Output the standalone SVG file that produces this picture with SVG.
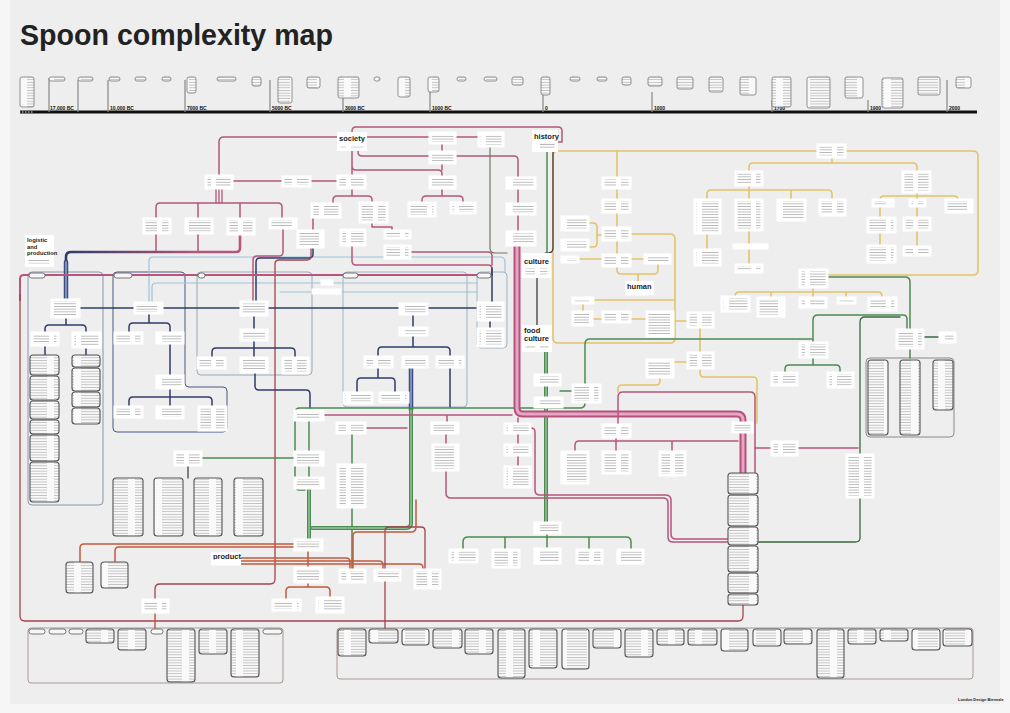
<svg xmlns="http://www.w3.org/2000/svg" width="1010" height="713" viewBox="0 0 1010 713">
<defs>
<pattern id="tx" width="27" height="2.7" patternUnits="userSpaceOnUse"><rect width="27" height="2.7" fill="#fff"/><rect y="1" width="22" height="0.75" fill="#a8a8a8"/></pattern>
<pattern id="tl" width="27" height="2.7" patternUnits="userSpaceOnUse"><rect width="27" height="2.7" fill="#f9f9f9"/><rect y="1" width="20" height="0.7" fill="#b0b0b0"/></pattern>
<linearGradient id="gRN" gradientUnits="userSpaceOnUse" x1="66" y1="0" x2="200" y2="0"><stop offset="0" stop-color="#2e3c6a"/><stop offset="1" stop-color="#b7567d"/></linearGradient>
</defs>
<style>
.n{fill:url(#tx);stroke:#fff;stroke-width:3}
.l{fill:url(#tl);stroke:#555;stroke-width:1.1}
.tb{fill:url(#tl);stroke:#777;stroke-width:.8}
.pill{fill:#f7f7f7;stroke:#555;stroke-width:.8}
.fr{fill:none;stroke-width:1}
#links path{fill:none;stroke-linecap:round;stroke-linejoin:round}
.ro{stroke:#b7567d;stroke-width:1.5}
.ma{stroke:#a3434f;stroke-width:1.3}
.nv{stroke:#2e3c6a;stroke-width:1.5}
.lb{stroke:#9cc3dc;stroke-width:1.2}
.ye{stroke:#e3c36a;stroke-width:1.6}
.gr{stroke:#4b8b52;stroke-width:1.5}
.dg{stroke:#3a6b40;stroke-width:1.3}
.or{stroke:#c25a3c;stroke-width:1.5}
.dk{stroke:#333;stroke-width:1.2}
.pb1{stroke:#b5527c;stroke-width:7}
.pb2{stroke:#e6a6c4;stroke-width:3}
.nb1{stroke:#3b4d80;stroke-width:4.5}
.nb2{stroke:#8ea2cf;stroke-width:1.6}
.gb1{stroke:#4b8b52;stroke-width:4}
.gb2{stroke:#9cc79f;stroke-width:1.4}
text{font-family:"Liberation Sans",Arial,Helvetica,sans-serif;font-weight:bold;fill:#222}
.h{font-size:7.5px}
.tl{font-size:5px;fill:#111}
</style>
<rect width="1010" height="713" fill="#f6f6f6"/>
<rect x="10" y="0" width="990" height="704" fill="#eeeeee"/>

<g id="title"><text x="20" y="45" font-size="29" fill="#3a3a3a" textLength="313" lengthAdjust="spacingAndGlyphs">Spoon complexity map</text></g>

<g id="timeline">
<path d="M20,112 H977" stroke="#111" stroke-width="3" fill="none"/>
<path d="M19,112 H33 M977,112 H991" stroke="#eee" stroke-width="1" stroke-dasharray="1.5 1.5" fill="none"/>
<path d="M49,78 V112 M78,80 V112 M108,80 V112 M185,80 V112 M270,80 V112 M343,80 V112 M430,80 V112 M543,80 V112 M652,92 V112 M772,100 V112 M868,100 V112 M947,80 V112" stroke="#888" stroke-width="1.2" fill="none"/>
<text class="tl" x="50" y="110">17,000 BC</text>
<text class="tl" x="110" y="110">10,000 BC</text>
<text class="tl" x="187" y="110">7000 BC</text>
<text class="tl" x="272" y="110">5000 BC</text>
<text class="tl" x="345" y="110">3000 BC</text>
<text class="tl" x="432" y="110">1000 BC</text>
<text class="tl" x="545" y="110">0</text>
<text class="tl" x="654" y="110">1000</text>
<text class="tl" x="774" y="110">1700</text>
<text class="tl" x="870" y="110">1900</text>
<text class="tl" x="949" y="110">2000</text>
<g id="tboxes">
<rect class="tb" x="20" y="77" width="14" height="30" rx="2"/><rect class="tb" x="49" y="77" width="16" height="4" rx="2"/><rect class="tb" x="78" y="77" width="15" height="4" rx="2"/><rect class="tb" x="109" y="77" width="11" height="4" rx="2"/><rect class="tb" x="135" y="77" width="11" height="4" rx="2"/><rect class="tb" x="162" y="77" width="9" height="4" rx="2"/><rect class="tb" x="187" y="77" width="9" height="16" rx="2"/><rect class="tb" x="217" y="77" width="19" height="4" rx="2"/><rect class="tb" x="252" y="77" width="9" height="9" rx="2"/><rect class="tb" x="278" y="77" width="14" height="26" rx="2"/><rect class="tb" x="307" y="77" width="13" height="11" rx="2"/><rect class="tb" x="338" y="77" width="21" height="21" rx="2"/><rect class="tb" x="374" y="77" width="6" height="4" rx="2"/><rect class="tb" x="398" y="77" width="12" height="20" rx="2"/><rect class="tb" x="428" y="77" width="11" height="15" rx="2"/><rect class="tb" x="457" y="77" width="9" height="4" rx="2"/><rect class="tb" x="484" y="77" width="13" height="4" rx="2"/><rect class="tb" x="512" y="77" width="11" height="8" rx="2"/><rect class="tb" x="541" y="77" width="9" height="18" rx="2"/><rect class="tb" x="570" y="77" width="10" height="4" rx="2"/><rect class="tb" x="597" y="77" width="10" height="4" rx="2"/><rect class="tb" x="622" y="77" width="9" height="8" rx="2"/><rect class="tb" x="648" y="77" width="14" height="9" rx="2"/><rect class="tb" x="677" y="77" width="16" height="12" rx="2"/><rect class="tb" x="709" y="77" width="14" height="15" rx="2"/><rect class="tb" x="740" y="77" width="16" height="18" rx="2"/><rect class="tb" x="772" y="77" width="19" height="30" rx="2"/><rect class="tb" x="807" y="77" width="23" height="31" rx="2"/><rect class="tb" x="845" y="77" width="18" height="21" rx="2"/><rect class="tb" x="882" y="78" width="21" height="30" rx="2"/><rect class="tb" x="918" y="77" width="22" height="18" rx="2"/><rect class="tb" x="956" y="77" width="15" height="11" rx="2"/>
</g>
</g>

<g id="frames">
<rect class="fr" x="28" y="272" width="75" height="233" rx="4" stroke="#8a96a8"/>
<path class="fr" d="M113,276 Q113,272 117,272 H181 Q185,272 185,276 V383 Q185,387 189,387 H223 Q227,387 227,391 V428 Q227,432 223,432 H117 Q113,432 113,428 Z" stroke="#4a5680"/>
<rect class="fr" x="197" y="272" width="115" height="103" rx="4" stroke="#9aa8b8"/>
<rect class="fr" x="343" y="272" width="124" height="135" rx="4" stroke="#9fb4c4"/>
<rect class="fr" x="477" y="272" width="30" height="76" rx="4" stroke="#9fb4c4"/>
<rect class="fr" x="866" y="358" width="88" height="79" rx="4" stroke="#8a8a8a"/>
<rect class="fr" x="28" y="628" width="255" height="55" rx="3" stroke="#a89a92"/>
<rect class="fr" x="337" y="628" width="636" height="51" rx="3" stroke="#a89a92"/>
</g>

<g id="links">
<path class="lb" d="M149,303 V261 Q149,257 153,257 H500 Q505,257 505,262 V272"/>
<path class="lb" d="M152,303 V287 Q152,283 156,283 H477"/>
<path class="lb" d="M280,292 H477"/>
<path class="ye" d="M818,151 H558 Q553,151 553,156 V338 Q553,343 558,343 H670 Q675,343 675,338 V239 Q675,234 670,234 H630"/>
<path class="ye" d="M845,151 H973 Q978,151 978,156 V270 Q978,275 973,275 H827"/>
<path class="ye" d="M617,151 V178 M617,188 V200 M617,212 V228 M617,240 V255 M588,223 H593 Q597,223 597,227 V243 Q597,247 593,247 H588 M597,235 H603 M578,259 H603 M630,259 H645 M617,266 V270 Q617,274 621,274 H654 Q658,274 658,270 V263 M638,274 V281"/>
<path class="ye" d="M832,157 V163 M749,172 V167 Q749,163 753,163 H913 Q917,163 917,167 V172"/>
<path class="ye" d="M749,185 V190 M707,200 V194 Q707,190 711,190 H828 Q832,190 832,194 V200 M749,190 V200 M791,190 V200 M707,233 V250 M749,230 V265"/>
<path class="ye" d="M917,192 V196 M880,200 Q880,196 884,196 H954 Q958,196 958,200 M917,196 V200 M880,206 V218 M880,232 V246 M917,206 V218 M917,230 V247"/>
<path class="ye" d="M813,287 V292 M735,297 Q735,292 739,292 H878 Q882,292 882,297 M771,292 V298 M813,292 V298 M846,292 V298"/>
<path class="ye" d="M593,300 H675 M583,303 V312 M593,319 H603 M630,319 H647 M673,321 H688 M700,327 V353 M673,362 H688 M700,368 V373 Q700,377 704,377 H753 Q757,377 757,381 V423 M660,377 V381 Q660,385 656,385 H622 Q618,385 618,389 V392"/>
<path class="ro" d="M219,176 V142 Q219,137 224,137 H338"/>
<path class="ro" d="M352,133 V131 Q352,127 356,127 H558 Q562,127 562,131 V142 H557"/>
<path class="ro" d="M232,181 H283 M310,181 H338 M365,137 H430 M455,137 H479"/>
<path class="ro" d="M358,150 V152 Q358,156 362,156 H430 M455,156 H514 Q518,156 518,160 V178 M518,188 V204 M518,214 V232"/>
<path class="ro" d="M352,150 V176 M352,166 Q352,170 356,170 H438 Q442,170 442,174 V177 M442,143 V152 M442,163 V170"/>
<path class="ro" d="M352,188 V196 M333,204 V200 Q333,196 337,196 H368 Q372,196 372,200 V203 M442,188 V196 M422,203 V200 Q422,196 426,196 H459 Q463,196 463,200 V203"/>
<path class="ro" d="M216,188 V203 M219,188 V203 M222,188 V203" style="stroke-width:1.3"/>
<path class="ro" d="M156,219 V207 Q156,203 160,203 H278 Q282,203 282,207 V219 M198,203 V219 M240,203 V219 M156,233 V252 M198,233 V252"/>
<path d="M240,234 V248 Q240,252 236,252 H71 Q66,252 66,257 V262" stroke="url(#gRN)" stroke-width="2.6"/>
<path class="nb1" d="M66,262 V300"/><path class="nb2" d="M66,262 V300"/>
<path class="ro" d="M283,228 V252 Q283,256 279,256 H257 Q253,256 253,260 V302 M313,217 V231"/>
<path class="nv" d="M313,247 V254 Q313,258 309,258 H260 Q256,258 256,262 V302"/>
<path class="ma" d="M311,247 V256 Q311,260 307,260 H279 Q275,260 275,264 V579 Q275,584 270,584 H160 Q155,584 155,589 V600"/>
<path class="ro" d="M352,245 V261 Q352,265 356,265 H488 Q492,265 492,269 V275 M372,222 V227 H392 V231 M410,252 H488 Q492,252 492,256 V265"/>
<path class="nv" d="M492,268 V303 M490,320 V329"/>
<path class="ro" d="M478,275 H24 Q20,275 20,279 V300" style="stroke-width:2"/>
<path class="ma" d="M20,295 V616 Q20,621 25,621 H738 Q743,621 743,616 V605"/>
<path class="gr" d="M547,152 V253"/>
<path class="dk" d="M553,152 V248 Q553,253 548,253 H545 M537,278 V325"/>
<path d="M490,146 V248 Q490,253 495,253 H507" stroke="#6b7d5f" stroke-width="1.2"/>
<path class="nv" d="M79,308 H135 M162,308 H241 M267,308 H400 M427,308 H478"/>
<path class="nv" d="M66,317 V325 M45,333 V329 Q45,325 49,325 H82 Q86,325 86,329 V333 M45,345 V355 M86,347 V355"/>
<path class="nv" d="M149,313 V323 M129,333 V327 Q129,323 133,323 H166 Q170,323 170,327 V333 M170,343 V376 M170,388 V397 M129,407 V401 Q129,397 133,397 H208 Q212,397 212,401 V407 M170,397 V407"/>
<path class="nv" d="M254,315 V330 M254,340 V348 M212,358 V352 Q212,348 216,348 H291 Q295,348 295,352 V358 M254,348 V358 M255,372 V386 Q255,390 259,390 H306 Q310,390 310,394 V408"/>
<path class="nv" d="M413,314 V328 M413,335 V347 M378,357 V351 Q378,347 382,347 H446 Q450,347 450,351 V357 M378,367 V378 M357,393 V382 Q357,378 361,378 H391 Q395,378 395,382 V393 M450,367 V407"/>
<path class="nb1" d="M411,367 V410"/><path class="nb2" d="M411,367 V410"/>
<path class="gr" d="M812,339 H590 Q585,339 585,344 V403 Q585,408 580,408 H300 Q295,408 295,413 V485 Q295,490 300,490 H305"/>
<path class="gb1" d="M546,352 V523"/><path class="gb2" d="M546,352 V523"/>
<path class="gr" d="M547,533 V537 M463,550 V542 Q463,537 468,537 H626 Q631,537 631,542 V550 M505,537 V550 M547,537 V549 M589,537 V550 M560,391 H573"/>
<path class="gr" d="M309,420 V452 M309,465 V478 M352,433 V465 M352,507 V570 M202,458 H295"/>
<path class="dk" d="M188,465 V478"/>
<path class="gb1" d="M309,488 V540"/><path class="gb2" d="M309,488 V540"/>
<path class="gb1" d="M411,410 V523 Q411,528 406,528 H312"/><path class="gb2" d="M411,410 V523 Q411,528 406,528 H312"/>
<path class="gr" d="M827,277 H905 Q910,277 910,282 V330 M813,343 V320 Q813,315 818,315 H903 Q907,315 907,319 V330 M813,357 V365 M785,373 V369 Q785,365 789,365 H836 Q840,365 840,369 V373 M910,348 V358"/>
<path class="dg" d="M860,538 V322 Q860,317 865,317 H900 M860,538 Q860,542 855,542 H758 M923,337 H940"/>
<path class="ro" d="M323,415 H512 M447,415 V423 M518,418 V424 M518,433 V445 M518,455 V467 M365,428 H407 M446,433 V445"/>
<path class="pb1" d="M517,245 V408 Q517,414 523,414 H737 Q743,414 743,420 V423"/>
<path class="pb2" d="M517,245 V408 Q517,414 523,414 H737 Q743,414 743,420 V423"/>
<path class="pb1" d="M743,432 V473"/><path class="pb2" d="M743,432 V473"/>
<path class="ro" d="M446,470 V493 Q446,498 451,498 H663 Q668,498 668,503 V537 Q668,542 673,542 H728"/>
<path class="ro" d="M530,428 H531 Q535,428 535,432 V490 Q535,495 540,495 H665 Q671,495 671,500 V534 Q671,539 676,539 H728"/>
<path class="ro" d="M618,425 V397 Q618,392 623,392 H750 Q755,392 755,397 V473"/>
<path class="ro" d="M616,437 V452 M575,452 V445 Q575,441 579,441 H738 M672,441 V452 M755,448 H858"/>
<path class="or" d="M240,558 H346 Q350,558 350,562 V570 M240,561 H379 Q383,561 383,565 V570 M240,564 H419 Q423,564 423,568 V570"/>
<path class="or" d="M295,544 H84 Q80,544 80,548 V562 M295,547 H119 Q115,547 115,551 V562"/>
<path class="or" d="M308,550 V568 M308,582 V587 M286,600 V591 Q286,587 290,587 H326 Q330,587 330,591 V598 M155,612 V628"/>
<path class="ma" d="M385,628 V531 Q385,527 389,527 H421 Q425,527 425,531 V570"/>
<path class="or" d="M416,500 V527 Q416,532 411,532 H357 Q353,532 353,536 V570"/>
</g>

<g id="pills">
<rect class="pill" x="29" y="273" width="16" height="5" rx="2.5"/><rect class="pill" x="114" y="273" width="18" height="5" rx="2.5"/><rect class="pill" x="198" y="273" width="7" height="5" rx="2.5"/><rect class="pill" x="343" y="273" width="15" height="5" rx="2.5"/><rect class="pill" x="477" y="273" width="14" height="5" rx="2.5"/>
<rect class="pill" x="29" y="629" width="16" height="5" rx="2.5"/><rect class="pill" x="49" y="629" width="17" height="5" rx="2.5"/><rect class="pill" x="69" y="629" width="14" height="5" rx="2.5"/><rect class="pill" x="151" y="629" width="12" height="5" rx="2.5"/><rect class="pill" x="263" y="629" width="19" height="5" rx="2.5"/>
</g>

<g id="lists">
<rect class="l" x="30" y="355" width="29" height="20" rx="3"/><rect class="l" x="30" y="376" width="29" height="24" rx="3"/><rect class="l" x="30" y="401" width="29" height="18" rx="3"/><rect class="l" x="30" y="420" width="29" height="14" rx="3"/><rect class="l" x="30" y="435" width="29" height="26" rx="3"/><rect class="l" x="30" y="462" width="29" height="40" rx="3"/>
<rect class="l" x="72" y="355" width="28" height="12" rx="3"/><rect class="l" x="72" y="368" width="28" height="23" rx="3"/><rect class="l" x="72" y="392" width="28" height="15" rx="3"/><rect class="l" x="72" y="408" width="28" height="16" rx="3"/>
<rect class="l" x="113" y="478" width="30" height="58" rx="3"/><rect class="l" x="154" y="478" width="29" height="58" rx="3"/><rect class="l" x="194" y="478" width="28" height="58" rx="3"/><rect class="l" x="234" y="478" width="29" height="58" rx="3"/>
<rect class="l" x="66" y="562" width="27" height="31" rx="3"/><rect class="l" x="101" y="562" width="27" height="26" rx="3"/>
<rect class="l" x="868" y="360" width="20" height="75" rx="3"/><rect class="l" x="900" y="360" width="20" height="75" rx="3"/><rect class="l" x="933" y="360" width="20" height="50" rx="3"/>
<rect class="l" x="728" y="473" width="30" height="21" rx="3"/><rect class="l" x="728" y="495" width="30" height="31" rx="3"/><rect class="l" x="728" y="527" width="30" height="18" rx="3"/><rect class="l" x="728" y="546" width="30" height="26" rx="3"/><rect class="l" x="728" y="573" width="30" height="20" rx="3"/><rect class="l" x="728" y="594" width="30" height="11" rx="3"/>
<rect class="l" x="86" y="629" width="28" height="14" rx="3"/><rect class="l" x="118" y="629" width="28" height="21" rx="3"/><rect class="l" x="167" y="629" width="28" height="53" rx="3"/><rect class="l" x="199" y="629" width="28" height="25" rx="3"/><rect class="l" x="231" y="629" width="28" height="48" rx="3"/>
<rect class="l" x="338" y="629" width="28" height="27" rx="3"/><rect class="l" x="369" y="629" width="29" height="14" rx="3"/><rect class="l" x="402" y="629" width="27" height="16" rx="3"/><rect class="l" x="433" y="629" width="29" height="19" rx="3"/><rect class="l" x="465" y="629" width="28" height="25" rx="3"/><rect class="l" x="498" y="629" width="27" height="49" rx="3"/><rect class="l" x="529" y="629" width="28" height="39" rx="3"/><rect class="l" x="562" y="629" width="27" height="40" rx="3"/><rect class="l" x="593" y="629" width="28" height="19" rx="3"/><rect class="l" x="625" y="629" width="28" height="28" rx="3"/><rect class="l" x="657" y="629" width="27" height="16" rx="3"/><rect class="l" x="688" y="629" width="29" height="16" rx="3"/><rect class="l" x="721" y="629" width="27" height="22" rx="3"/><rect class="l" x="753" y="629" width="28" height="17" rx="3"/><rect class="l" x="784" y="629" width="28" height="15" rx="3"/><rect class="l" x="817" y="629" width="27" height="49" rx="3"/><rect class="l" x="848" y="629" width="28" height="15" rx="3"/><rect class="l" x="880" y="629" width="28" height="12" rx="3"/><rect class="l" x="912" y="629" width="28" height="21" rx="3"/><rect class="l" x="943" y="629" width="29" height="17" rx="3"/>
</g>

<g id="nodes">
<g id="society"><rect x="337" y="132" width="30" height="19" fill="#fff"/><text class="h" x="339" y="141">society</text><rect class="n" x="339" y="144" width="26" height="5"/></g>
<g id="history"><rect x="532" y="130" width="26" height="22" fill="#fff"/><text class="h" x="534" y="139">history</text><rect class="n" x="534" y="142" width="22" height="8"/></g>
<g id="culture"><rect x="522" y="253" width="29" height="25" fill="#fff"/><text class="h" x="524" y="264">culture</text><rect class="n" x="524" y="267" width="25" height="9"/></g>
<g id="foodculture"><rect x="522" y="325" width="30" height="27" fill="#fff"/><text class="h" x="524" y="333">food</text><text class="h" x="524" y="341">culture</text><rect class="n" x="524" y="344" width="26" height="6"/></g>
<g id="human"><rect x="625" y="281" width="29" height="14" fill="#fff"/><text class="h" x="627" y="289">human</text><rect class="n" x="627" y="291" width="20" height="3"/></g>
<g id="product"><rect x="211" y="552" width="30" height="13" fill="#fff"/><text class="h" x="213" y="559">product</text><rect class="n" x="213" y="561" width="26" height="3"/></g>
<g id="logistic"><rect x="25" y="235" width="29" height="32" fill="#fff"/><text x="27" y="242" font-size="5.8">logistic</text><text x="27" y="248.5" font-size="5.8">and</text><text x="27" y="255" font-size="5.8">production</text><rect class="n" x="27" y="258" width="25" height="7"/></g>
<g id="s1"><rect class="n" x="206" y="176" width="26" height="12"/></g>
<g id="s2"><rect class="n" x="283" y="177" width="27" height="9"/></g>
<g id="s3"><rect class="n" x="144" y="219" width="26" height="14"/></g>
<g id="s4"><rect class="n" x="186" y="219" width="26" height="14"/></g>
<g id="s5"><rect class="n" x="228" y="219" width="26" height="15"/></g>
<g id="s6"><rect class="n" x="270" y="219" width="26" height="9"/></g>
<g id="s7"><rect class="n" x="312" y="204" width="28" height="13"/></g>
<g id="s8"><rect class="n" x="298" y="231" width="25" height="16"/></g>
<g id="s9"><rect class="n" x="430" y="133" width="25" height="10"/></g>
<g id="s10"><rect class="n" x="479" y="133" width="24" height="13"/></g>
<g id="s11"><rect class="n" x="430" y="152" width="25" height="11"/></g>
<g id="s12"><rect class="n" x="338" y="176" width="27" height="12"/></g>
<g id="s13"><rect class="n" x="430" y="177" width="25" height="11"/></g>
<g id="s14"><rect class="n" x="360" y="203" width="27" height="19"/></g>
<g id="s15"><rect class="n" x="409" y="203" width="26" height="13"/></g>
<g id="s16"><rect class="n" x="451" y="203" width="24" height="10"/></g>
<g id="s17"><rect class="n" x="341" y="230" width="24" height="15"/></g>
<g id="s18"><rect class="n" x="385" y="231" width="25" height="7"/></g>
<g id="s19"><rect class="n" x="385" y="246" width="25" height="12"/></g>
<g id="s20"><rect class="n" x="507" y="178" width="28" height="10"/></g>
<g id="s21"><rect class="n" x="507" y="204" width="28" height="10"/></g>
<g id="s22"><rect class="n" x="507" y="232" width="28" height="13"/></g>
<g id="l1"><rect class="n" x="52" y="300" width="27" height="17"/></g>
<g id="l2"><rect class="n" x="32" y="333" width="26" height="12"/></g>
<g id="l3"><rect class="n" x="73" y="333" width="27" height="14"/></g>
<g id="l4"><rect class="n" x="135" y="303" width="27" height="10"/></g>
<g id="l5"><rect class="n" x="115" y="333" width="27" height="10"/></g>
<g id="l6"><rect class="n" x="157" y="333" width="26" height="10"/></g>
<g id="l7"><rect class="n" x="157" y="376" width="26" height="12"/></g>
<g id="l8"><rect class="n" x="115" y="407" width="27" height="10"/></g>
<g id="l9"><rect class="n" x="157" y="407" width="26" height="11"/></g>
<g id="l10"><rect class="n" x="199" y="407" width="27" height="23"/></g>
<g id="l11"><rect class="n" x="241" y="302" width="26" height="13"/></g>
<g id="l12"><rect class="n" x="241" y="330" width="26" height="10"/></g>
<g id="l13"><rect class="n" x="198" y="358" width="27" height="10"/></g>
<g id="l14"><rect class="n" x="241" y="358" width="26" height="14"/></g>
<g id="l15"><rect class="n" x="283" y="358" width="25" height="15"/></g>
<g id="l16"><rect class="n" x="400" y="304" width="27" height="10"/></g>
<g id="l17"><rect class="n" x="400" y="328" width="27" height="7"/></g>
<g id="l18"><rect class="n" x="365" y="357" width="27" height="10"/></g>
<g id="l19"><rect class="n" x="403" y="357" width="24" height="10"/></g>
<g id="l20"><rect class="n" x="437" y="357" width="26" height="10"/></g>
<g id="l21"><rect class="n" x="344" y="393" width="28" height="10"/></g>
<g id="l22"><rect class="n" x="380" y="393" width="28" height="9"/></g>
<g id="l23"><rect class="n" x="478" y="303" width="25" height="17"/></g>
<g id="l24"><rect class="n" x="478" y="329" width="25" height="17"/></g>
<g id="l25"><rect class="n" x="322" y="281" width="10" height="3"/></g>
<g id="l26"><rect class="n" x="313" y="290" width="27" height="3"/></g>
<g id="c1"><rect class="n" x="175" y="452" width="26" height="13"/></g>
<g id="c2"><rect class="n" x="295" y="411" width="28" height="9"/></g>
<g id="c3"><rect class="n" x="295" y="452" width="28" height="13"/></g>
<g id="c4"><rect class="n" x="295" y="478" width="28" height="10"/></g>
<g id="c5"><rect class="n" x="337" y="423" width="28" height="10"/></g>
<g id="c6"><rect class="n" x="338" y="465" width="27" height="42"/></g>
<g id="c7"><rect class="n" x="432" y="423" width="26" height="10"/></g>
<g id="c8"><rect class="n" x="433" y="445" width="25" height="25"/></g>
<g id="c9"><rect class="n" x="505" y="424" width="25" height="9"/></g>
<g id="c10"><rect class="n" x="505" y="445" width="25" height="10"/></g>
<g id="c11"><rect class="n" x="505" y="467" width="25" height="20"/></g>
<g id="p1"><rect class="n" x="295" y="540" width="27" height="10"/></g>
<g id="p2"><rect class="n" x="295" y="568" width="27" height="14"/></g>
<g id="p3"><rect class="n" x="340" y="570" width="25" height="12"/></g>
<g id="p4"><rect class="n" x="375" y="570" width="25" height="10"/></g>
<g id="p5"><rect class="n" x="415" y="570" width="25" height="18"/></g>
<g id="p6"><rect class="n" x="143" y="600" width="25" height="12"/></g>
<g id="p7"><rect class="n" x="273" y="600" width="27" height="10"/></g>
<g id="p8"><rect class="n" x="317" y="598" width="26" height="14"/></g>
<g id="f1"><rect class="n" x="535" y="375" width="25" height="10"/></g>
<g id="f2"><rect class="n" x="535" y="398" width="27" height="9"/></g>
<g id="f3"><rect class="n" x="573" y="385" width="27" height="17"/></g>
<g id="f4"><rect class="n" x="562" y="452" width="26" height="31"/></g>
<g id="f5"><rect class="n" x="603" y="452" width="27" height="21"/></g>
<g id="f6"><rect class="n" x="660" y="452" width="25" height="23"/></g>
<g id="f7"><rect class="n" x="603" y="425" width="27" height="12"/></g>
<g id="f8"><rect class="n" x="733" y="423" width="19" height="9"/></g>
<g id="f9"><rect class="n" x="535" y="523" width="25" height="10"/></g>
<g id="f10"><rect class="n" x="450" y="550" width="27" height="12"/></g>
<g id="f11"><rect class="n" x="493" y="550" width="26" height="17"/></g>
<g id="f12"><rect class="n" x="535" y="549" width="25" height="14"/></g>
<g id="f13"><rect class="n" x="577" y="550" width="25" height="13"/></g>
<g id="f14"><rect class="n" x="618" y="550" width="25" height="13"/></g>
<g id="d1"><rect class="n" x="573" y="298" width="20" height="5"/></g>
<g id="d2"><rect class="n" x="573" y="312" width="19" height="13"/></g>
<g id="d3"><rect class="n" x="603" y="312" width="27" height="10"/></g>
<g id="d4"><rect class="n" x="647" y="312" width="26" height="24"/></g>
<g id="d5"><rect class="n" x="688" y="313" width="25" height="14"/></g>
<g id="d6"><rect class="n" x="688" y="353" width="25" height="15"/></g>
<g id="d7"><rect class="n" x="647" y="360" width="26" height="17"/></g>
<g id="r1"><rect class="n" x="800" y="343" width="27" height="14"/></g>
<g id="r2"><rect class="n" x="772" y="373" width="25" height="12"/></g>
<g id="r3"><rect class="n" x="828" y="373" width="25" height="14"/></g>
<g id="r4"><rect class="n" x="897" y="330" width="26" height="18"/></g>
<g id="r5"><rect class="n" x="940" y="333" width="15" height="9"/></g>
<g id="r6"><rect class="n" x="847" y="455" width="26" height="42"/></g>
<g id="r7"><rect class="n" x="772" y="442" width="25" height="13"/></g>
<g id="h1"><rect class="n" x="562" y="217" width="26" height="13"/></g>
<g id="h2"><rect class="n" x="562" y="240" width="26" height="10"/></g>
<g id="h3"><rect class="n" x="603" y="178" width="27" height="10"/></g>
<g id="h4"><rect class="n" x="603" y="200" width="27" height="12"/></g>
<g id="h5"><rect class="n" x="603" y="228" width="27" height="12"/></g>
<g id="h6"><rect class="n" x="603" y="255" width="27" height="11"/></g>
<g id="h7"><rect class="n" x="645" y="255" width="25" height="8"/></g>
<g id="h8"><rect class="n" x="562" y="257" width="16" height="5"/></g>
<g id="y1"><rect class="n" x="818" y="145" width="27" height="12"/></g>
<g id="y2"><rect class="n" x="736" y="172" width="26" height="13"/></g>
<g id="y3"><rect class="n" x="903" y="172" width="27" height="20"/></g>
<g id="y4"><rect class="n" x="695" y="200" width="25" height="33"/></g>
<g id="y5"><rect class="n" x="736" y="200" width="26" height="30"/></g>
<g id="y6"><rect class="n" x="778" y="200" width="27" height="20"/></g>
<g id="y7"><rect class="n" x="820" y="200" width="25" height="15"/></g>
<g id="y8"><rect class="n" x="695" y="250" width="25" height="15"/></g>
<g id="y9"><rect class="n" x="734" y="245" width="33" height="3"/></g>
<g id="y10"><rect class="n" x="736" y="265" width="26" height="7"/></g>
<g id="y11"><rect class="n" x="873" y="200" width="20" height="6"/></g>
<g id="y12"><rect class="n" x="910" y="200" width="15" height="6"/></g>
<g id="y13"><rect class="n" x="946" y="200" width="26" height="12"/></g>
<g id="y14"><rect class="n" x="868" y="218" width="27" height="14"/></g>
<g id="y15"><rect class="n" x="868" y="246" width="27" height="16"/></g>
<g id="y16"><rect class="n" x="904" y="218" width="26" height="12"/></g>
<g id="y17"><rect class="n" x="904" y="247" width="26" height="8"/></g>
<g id="y18"><rect class="n" x="800" y="270" width="27" height="17"/></g>
<g id="y19"><rect class="n" x="722" y="297" width="27" height="14"/></g>
<g id="y20"><rect class="n" x="758" y="298" width="26" height="18"/></g>
<g id="y21"><rect class="n" x="800" y="298" width="26" height="9"/></g>
<g id="y22"><rect class="n" x="838" y="298" width="17" height="5"/></g>
<g id="y23"><rect class="n" x="869" y="298" width="27" height="12"/></g>
</g>

<g id="footer"><text x="958" y="701" font-size="3.9" fill="#555">London Design Biennale</text></g>
</svg>
